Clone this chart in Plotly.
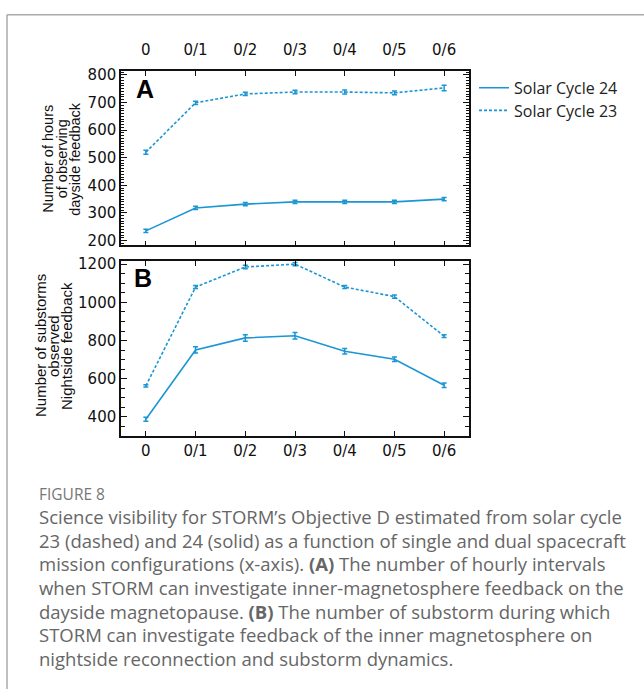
import plotly.graph_objects as go

W, H = 644, 693

categories = ["0", "0/1", "0/2", "0/3", "0/4", "0/5", "0/6"]

# Panel A: hours of observing dayside feedback
a_sc24 = [235, 318, 332, 340, 340, 340, 350]
a_sc24_err = [6, 6, 6, 6, 6, 6, 6]
a_sc23 = [520, 699, 731, 738, 738, 735, 753]
a_sc23_err = [7, 6, 6, 6, 7, 7, 10]

# Panel B: substorms observed, nightside feedback
b_sc24 = [388, 751, 814, 825, 744, 702, 566]
b_sc24_err = [10, 16, 17, 17, 15, 12, 12]
b_sc23 = [563, 1080, 1185, 1200, 1080, 1030, 823]
b_sc23_err = [6, 8, 9, 8, 8, 8, 7]

series_names = ["Solar Cycle 24", "Solar Cycle 23"]

BLUE = "#1b96d4"


def px(x):
    return x / W


def py(y):
    return 1 - y / H


fig = go.Figure()


def add(x, y, err, xa, ya, dash, name, show, leg):
    fig.add_trace(go.Scatter(
        x=x, y=y, xaxis=xa, yaxis=ya, mode="lines",
        line=dict(color=BLUE, width=1.6, dash=dash),
        error_y=dict(type="data", array=err, visible=True, color=BLUE,
                     thickness=1.5, width=2.5),
        name=name, showlegend=show, legend=leg,
    ))


add(categories, a_sc24, a_sc24_err, "x", "y", "solid", series_names[0], True, "legend")
add(categories, a_sc23, a_sc23_err, "x", "y", "3px,2px", series_names[1], True, "legend2")
add(categories, b_sc24, b_sc24_err, "x2", "y2", "solid", series_names[0], False, "legend")
add(categories, b_sc23, b_sc23_err, "x2", "y2", "3px,2px", series_names[1], False, "legend2")

tickfont = dict(family="DejaVu Sans", size=15, color="#111")
axis_common = dict(
    showline=True, linecolor="#111", linewidth=1.5, mirror="allticks",
    ticks="inside", tickcolor="#111", tickwidth=1.3, showgrid=False,
    zeroline=False, tickfont=tickfont,
)

legfont = dict(family="Open Sans", size=16, color="#222")
xdom = [px(121), px(469)]
fig.update_layout(
    width=W, height=H,
    margin=dict(l=0, r=0, t=0, b=0),
    paper_bgcolor="white", plot_bgcolor="white",
    xaxis=dict(domain=xdom, anchor="y", side="top", type="category",
               range=[-0.5, 6.5], ticklen=5, ticklabelstandoff=8, **axis_common),
    yaxis=dict(domain=[py(243), py(66)], anchor="x", range=[182, 814],
               tickvals=[200, 300, 400, 500, 600, 700, 800], ticklen=6,
               minor=dict(dtick=10, ticks="inside", ticklen=3,
                          tickcolor="#111", tickwidth=1, showgrid=False),
               **axis_common),
    xaxis2=dict(domain=xdom, anchor="y2", side="bottom", type="category",
                range=[-0.5, 6.5], ticklen=5, ticklabelstandoff=1, **axis_common),
    yaxis2=dict(domain=[py(436), py(259)], anchor="x2", range=[302, 1215],
                tickvals=[400, 600, 800, 1000, 1200], ticklen=6,
                minor=dict(dtick=50, ticks="inside", ticklen=4,
                           tickcolor="#111", tickwidth=1, showgrid=False),
                **axis_common),
    legend=dict(x=px(474), y=py(83), xanchor="left", yanchor="middle",
                font=legfont, bgcolor="rgba(0,0,0,0)", itemwidth=30),
    legend2=dict(x=px(474), y=py(106), xanchor="left", yanchor="middle",
                 font=legfont, bgcolor="rgba(0,0,0,0)", itemwidth=30),
    showlegend=True,
)

ann = []


def note(x, y, text, size, color="#111", family="Liberation Sans, Arial",
         angle=0, xa="center", ya="middle"):
    ann.append(dict(x=px(x), y=py(y), xref="paper", yref="paper", text=text,
                    textangle=angle, showarrow=False, xanchor=xa, yanchor=ya,
                    font=dict(family=family, size=size, color=color)))


# Panel letters
note(145, 84, "<b>A</b>", 25, "#000")
note(143, 276, "<b>B</b>", 25, "#000")

# Y titles (one annotation per line)
a_title = ["Number of hours", "of observing", "dayside feedback"]
for i, t in enumerate(a_title):
    note(48 + 13.5 * i, 155, t, 14.5, angle=-90)
b_title = ["Number of substorms", "observed", "Nightside feedback"]
for i, t in enumerate(b_title):
    note(40 + 13 * i, 345, t, 15, angle=-90)

# Caption
note(37, 495, "FIGURE 8", 15.5, "#777", "Open Sans", xa="left")
caption_lines = [
    "Science visibility for STORM\u2019s Objective D estimated from solar cycle",
    "23 (dashed) and 24 (solid) as a function of single and dual spacecraft",
    "mission configurations (x-axis). <b>(A)</b> The number of hourly intervals",
    "when STORM can investigate inner-magnetosphere feedback on the",
    "dayside magnetopause. <b>(B)</b> The number of substorm during which",
    "STORM can investigate feedback of the inner magnetosphere on",
    "nightside reconnection and substorm dynamics.",
]
for i, line in enumerate(caption_lines):
    note(37, 518 + 24 * i, line, 18.5, "#666", "Open Sans", xa="left")
fig.update_layout(annotations=ann)

# Card border (top and left)
fig.add_shape(type="line", xref="paper", yref="paper", x0=px(7), x1=1, y0=py(9), y1=py(9),
              line=dict(color="#aaaaaa", width=1.5))
fig.add_shape(type="line", xref="paper", yref="paper", x0=px(7), x1=px(7), y0=py(9), y1=0,
              line=dict(color="#aaaaaa", width=1.5))

fig.write_html("out.html")
